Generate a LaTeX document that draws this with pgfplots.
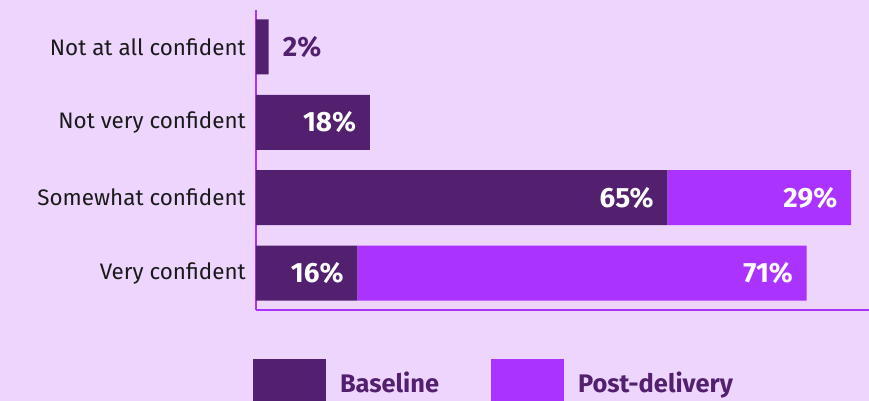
\documentclass[border=0pt]{standalone}
\usepackage{pgfplots}
\pgfplotsset{compat=1.18}
\usepackage{pgfplotstable}
\usepackage{fontspec}
\setmainfont{Fira Sans}
\definecolor{bg}{HTML}{EDD5FD}
\definecolor{base}{HTML}{52206F}
\definecolor{post}{HTML}{AB33FF}
\definecolor{lab}{HTML}{1A1A1A}

\pgfplotstableread{
y val
0 2
1 18
2 65
3 16
}\basetab
\pgfplotstableread{
y val
0 0
1 0
2 29
3 71
}\posttab

% nodes near coords of stacked bars sit at the middle of each segment:
% move the label to the segment's end (half the segment = val * 3.165bp)
\newcommand{\vlabel}{%
  \pgfmathfloattofixed{\pgfplotspointmeta}\edef\myv{\pgfmathresult}%
  \pgfmathtruncatemacro\vi{round(\myv)}%
  \ifdim\myv pt<0.5pt\relax\else
    \hspace*{3.165\dimexpr\myv bp\relax}%
    \ifdim\myv pt<5pt\relax
      \makebox[0pt][l]{\hspace*{14bp}\color{base}\vi\%}%
    \else
      \makebox[0pt][r]{\color{white}\vi\%\hspace*{14bp}}%
    \fi
  \fi}

\begin{document}
\begin{tikzpicture}
\fill[bg] (-256bp,-91bp) rectangle (613bp,310bp);
\useasboundingbox (-256bp,-91bp) rectangle (613bp,310bp);
\begin{axis}[
  at={(0,0)}, anchor=south west,
  scale only axis, width=613bp, height=300bp,
  xbar stacked, bar width=55bp,
  xmin=0, xmax=96.84, ymin=-0.49, ymax=3.49, y dir=reverse,
  axis x line=bottom, axis y line=left,
  axis line style={-, draw=post, line width=2bp},
  xtick=\empty, ytick={0,1,2,3},
  yticklabels={Not at all confident, Not very confident, Somewhat confident, Very confident},
  major tick length=0pt,
  yticklabel style={inner sep=0pt, xshift=-10bp, text=lab, font=\fontsize{22.5}{22.5}\selectfont},
  point meta=explicit,
  nodes near coords={\vlabel},
  every node near coord/.append style={anchor=west, xshift=0pt, yshift=0pt, font=\bfseries\fontsize{28}{28}\selectfont, inner sep=0pt},
  legend image code/.code={\fill[#1] (0bp,-14bp) rectangle (73bp,34bp);},
  legend columns=2,
  legend cell align=left,
  legend style={at={(axis description cs:-0.00489,-0.1633)}, anchor=north west,
    draw=none, fill=none, inner sep=0pt, outer sep=0pt,
    font=\bfseries\fontsize{25.5}{25.5}\selectfont, text=base,
    cells={anchor=base west},
    column sep=14bp, /tikz/every even column/.append style={column sep=52bp},
    nodes={inner sep=0pt}},
]
\addplot[fill=base, draw=none] table[x=val, y=y, meta=val] {\basetab};
\addplot[fill=post, draw=none] table[x=val, y=y, meta=val] {\posttab};
\legend{Baseline, Post-delivery}
\end{axis}
\end{tikzpicture}
\end{document}
